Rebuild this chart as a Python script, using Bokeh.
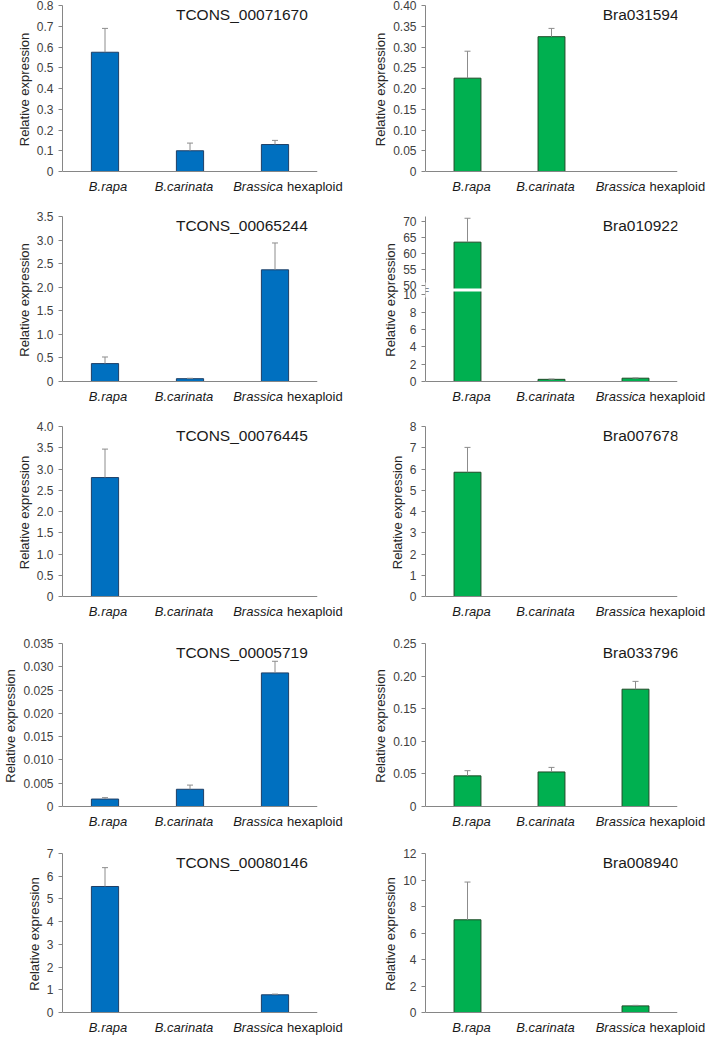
from bokeh.plotting import figure
from bokeh.models import FactorRange, Range1d, FixedTicker, Label, Span, ColumnDataSource
from bokeh.layouts import row, column
from bokeh.core.properties import value
from bokeh.embed import file_html
from bokeh.resources import INLINE

# ---------------- data ----------------
categories = ["B.rapa", "B.carinata", "Brassica hexaploid"]
cat_italic = ["B.rapa", "B.carinata", "Brassica"]
cat_roman = ["", "", "hexaploid"]

genes = ["TCONS_00071670", "Bra031594",
         "TCONS_00065244", "Bra010922",
         "TCONS_00076445", "Bra007678",
         "TCONS_00005719", "Bra033796",
         "TCONS_00080146", "Bra008940"]

tcons_00071670 = [0.575, 0.100, 0.130]
tcons_00071670_err = [0.115, 0.037, 0.020]
bra031594 = [0.225, 0.325, 0.0]
bra031594_err = [0.065, 0.020, 0.0]
tcons_00065244 = [0.38, 0.06, 2.37]
tcons_00065244_err = [0.14, 0.008, 0.57]
bra010922 = [63.5, 0.25, 0.38]
bra010922_err = [7.5, 0.03, 0.03]
tcons_00076445 = [2.80, 0.0, 0.0]
tcons_00076445_err = [0.67, 0.0, 0.0]
bra007678 = [5.85, 0.0, 0.0]
bra007678_err = [1.17, 0.0, 0.0]
tcons_00005719 = [0.0016, 0.0037, 0.0287]
tcons_00005719_err = [0.0003, 0.0009, 0.0025]
bra033796 = [0.047, 0.053, 0.180]
bra033796_err = [0.008, 0.007, 0.012]
tcons_00080146 = [5.55, 0.0, 0.78]
tcons_00080146_err = [0.83, 0.0, 0.03]
bra008940 = [7.0, 0.0, 0.50]
bra008940_err = [2.85, 0.0, 0.04]

ticks_00071670 = ["0", "0.1", "0.2", "0.3", "0.4", "0.5", "0.6", "0.7", "0.8"]
ticks_031594 = ["0", "0.05", "0.10", "0.15", "0.20", "0.25", "0.30", "0.35", "0.40"]
ticks_00065244 = ["0", "0.5", "1.0", "1.5", "2.0", "2.5", "3.0", "3.5"]
ticks_010922 = ["0", "2", "4", "6", "8", "10", "50", "55", "60", "65", "70"]
ticks_00076445 = ["0", "0.5", "1.0", "1.5", "2.0", "2.5", "3.0", "3.5", "4.0"]
ticks_007678 = ["0", "1", "2", "3", "4", "5", "6", "7", "8"]
ticks_00005719 = ["0", "0.005", "0.010", "0.015", "0.020", "0.025", "0.030", "0.035"]
ticks_033796 = ["0", "0.05", "0.10", "0.15", "0.20", "0.25"]
ticks_00080146 = ["0", "1", "2", "3", "4", "5", "6", "7"]
ticks_008940 = ["0", "2", "4", "6", "8", "10", "12"]

# broken axis for Bra010922 (lower part 0-10, upper part 50-70)
BREAK_LOW = 10.0
BREAK_HIGH = 50.0

# ---------------- styles / layout ----------------
BLUE, BLUE_EDGE = "#0070C0", "#1F3F66"
GREEN, GREEN_EDGE = "#00B050", "#1E4A26"
ERR = "#8C8C8C"
AXIS = "#868686"
FONT = "Liberation Sans"
TXT = "#1a1a1a"

GAP = 1.1        # display units between 10 and 50
K_UP = 0.367     # compression of the upper segment


def brk(v):
    if v <= BREAK_LOW:
        return v
    return BREAK_LOW + GAP + (v - BREAK_HIGH) * K_UP


EXT = 2   # px of frame below the zero line
BB = 5    # px of bottom border of the main figure (room for the "0" tick label)
ROW_H = [195, 210, 215, 210, 206]
ROW_T = [5, 21, 21, 23, 23]
ROW_Z = [166, 165, 170, 163, 159]   # px from frame top to zero line
COL = [dict(W=355, L=62, R=38, cat_xo=[3, -6, 8], rom_xo=12, tx=2.11, talign="center", txo=0),
       dict(W=352, L=70, R=30, cat_xo=[4, -6, 10], rom_xo=14, tx=3.0, talign="right", txo=1)]


def style_blank(p):
    p.outline_line_color = None
    p.grid.visible = False
    p.background_fill_color = "white"
    p.border_fill_color = "white"


def make_panel(gene, vals, errs, ticks, r, c, color, edge, broken=False):
    H, T, Z = ROW_H[r], ROW_T[r], ROW_Z[r]
    F = Z + EXT
    HM = T + F + BB       # main figure height
    HS = H - HM           # label strip height
    cw = COL[c]
    W, L, R = cw["W"], cw["L"], cw["R"]
    fw = W - L - R
    tf = brk if broken else (lambda v: v)
    tick_pos = [tf(float(s)) for s in ticks]
    y_end = tick_pos[-1] + 0.57 if broken else tick_pos[-1] * 1.0005
    y_start = -EXT * y_end / Z

    p = figure(width=W, height=HM,
               x_range=FactorRange(factors=categories),
               y_range=Range1d(y_start, y_end),
               x_axis_location=None,
               output_backend="svg", toolbar_location=None, tools="",
               min_border_left=L, min_border_right=R,
               min_border_top=T, min_border_bottom=BB, frame_align=False)
    style_blank(p)

    keep = [i for i, v in enumerate(vals) if v > 0]
    src = ColumnDataSource(dict(
        cat=[categories[i] for i in keep],
        top=[tf(vals[i]) for i in keep],
        etop=[tf(vals[i] + errs[i]) for i in keep]))
    p.vbar(x="cat", top="top", bottom=0, width=0.32, source=src,
           fill_color=color, line_color=edge, line_width=1)
    p.segment(x0="cat", y0="top", x1="cat", y1="etop", source=src,
              line_color=ERR, line_width=1)
    p.scatter(x="cat", y="etop", marker="dash", size=6, source=src,
              line_color=ERR, line_width=1)

    # baseline (x axis line)
    p.add_layout(Span(location=0, dimension="width", line_color=AXIS, line_width=1))

    if broken:
        mid = (brk(BREAK_LOW) + brk(BREAK_HIGH)) / 2.0
        bsrc = ColumnDataSource(dict(
            cat=[categories[i] for i in keep if vals[i] > BREAK_LOW],
            y=[mid for i in keep if vals[i] > BREAK_LOW]))
        p.rect(x="cat", y="y", width=0.36, height=3, height_units="screen",
               source=bsrc, fill_color="white", line_color=None)
        p.add_layout(Label(x=0, y=mid, text="=", text_align="center",
                           text_baseline="middle", text_font=FONT,
                           text_font_size="13px", text_color=AXIS,
                           background_fill_color="white"))

    ya = p.yaxis[0]
    ya.bounds = (0, y_end)
    ya.ticker = FixedTicker(ticks=tick_pos)
    ya.major_label_overrides = {pos: s for pos, s in zip(tick_pos, ticks)}
    ya.minor_tick_line_color = None
    ya.major_tick_in = 0
    ya.major_tick_out = 4
    ya.axis_line_color = AXIS
    ya.major_tick_line_color = AXIS
    ya.major_label_text_font = FONT
    ya.major_label_text_font_size = "12px"
    ya.major_label_text_color = "#404040"
    ya.major_label_standoff = 5
    ya.axis_label = "Relative expression"
    ya.axis_label_text_font = FONT
    ya.axis_label_text_font_size = "13px"
    ya.axis_label_text_font_style = "normal"
    ya.axis_label_text_color = "#262626"
    ya.axis_label_standoff = 2

    # gene title
    p.add_layout(Label(x=cw["tx"], y=y_end, x_offset=cw["txo"], y_offset=-9, text=gene,
                       text_align=cw["talign"], text_baseline="middle",
                       text_font=FONT, text_font_size="15.5px", text_color=TXT))

    # label strip under the plot: same horizontal scale as the bars, full-width frame
    u = 3.0 / fw
    s = figure(width=W, height=HS,
               x_range=Range1d(-L * u, (W - L) * u), y_range=Range1d(-HS, 0),
               x_axis_location=None, y_axis_location=None,
               output_backend="svg", toolbar_location=None, tools="",
               min_border_left=0, min_border_right=0,
               min_border_top=0, min_border_bottom=0, frame_align=False)
    style_blank(s)
    pos = [categories.index(cat) + 0.5 for cat in categories]
    isrc = ColumnDataSource(dict(
        x=pos, y=[0] * len(pos), txt=cat_italic,
        xo=cw["cat_xo"], al=["right" if t else "center" for t in cat_roman]))
    s.text(x="x", y="y", text="txt", x_offset="xo", text_align="al", source=isrc,
           text_baseline="top", text_font=value(FONT), text_font_size=value("13px"),
           text_font_style="italic", text_color=TXT)
    ridx = [i for i, t in enumerate(cat_roman) if t]
    rsrc = ColumnDataSource(dict(
        x=[pos[i] for i in ridx], y=[0] * len(ridx),
        txt=[cat_roman[i] for i in ridx]))
    s.text(x="x", y="y", text="txt", x_offset=cw["rom_xo"], source=rsrc,
           text_align="left", text_baseline="top", text_font=value(FONT),
           text_font_size=value("13px"), text_font_style="normal", text_color=TXT)

    return column(p, s, spacing=0)


panels = [
    (tcons_00071670, tcons_00071670_err, ticks_00071670, False),
    (bra031594, bra031594_err, ticks_031594, False),
    (tcons_00065244, tcons_00065244_err, ticks_00065244, False),
    (bra010922, bra010922_err, ticks_010922, True),
    (tcons_00076445, tcons_00076445_err, ticks_00076445, False),
    (bra007678, bra007678_err, ticks_007678, False),
    (tcons_00005719, tcons_00005719_err, ticks_00005719, False),
    (bra033796, bra033796_err, ticks_033796, False),
    (tcons_00080146, tcons_00080146_err, ticks_00080146, False),
    (bra008940, bra008940_err, ticks_008940, False),
]

rows = []
for r in range(5):
    figs = []
    for c in range(2):
        k = r * 2 + c
        vals, errs, ticks, broken = panels[k]
        color, edge = (BLUE, BLUE_EDGE) if c == 0 else (GREEN, GREEN_EDGE)
        figs.append(make_panel(genes[k], vals, errs, ticks, r, c, color, edge, broken))
    rows.append(row(*figs, spacing=0))

layout = column(*rows, spacing=0)

open("out.html", "w").write(file_html(layout, INLINE))
